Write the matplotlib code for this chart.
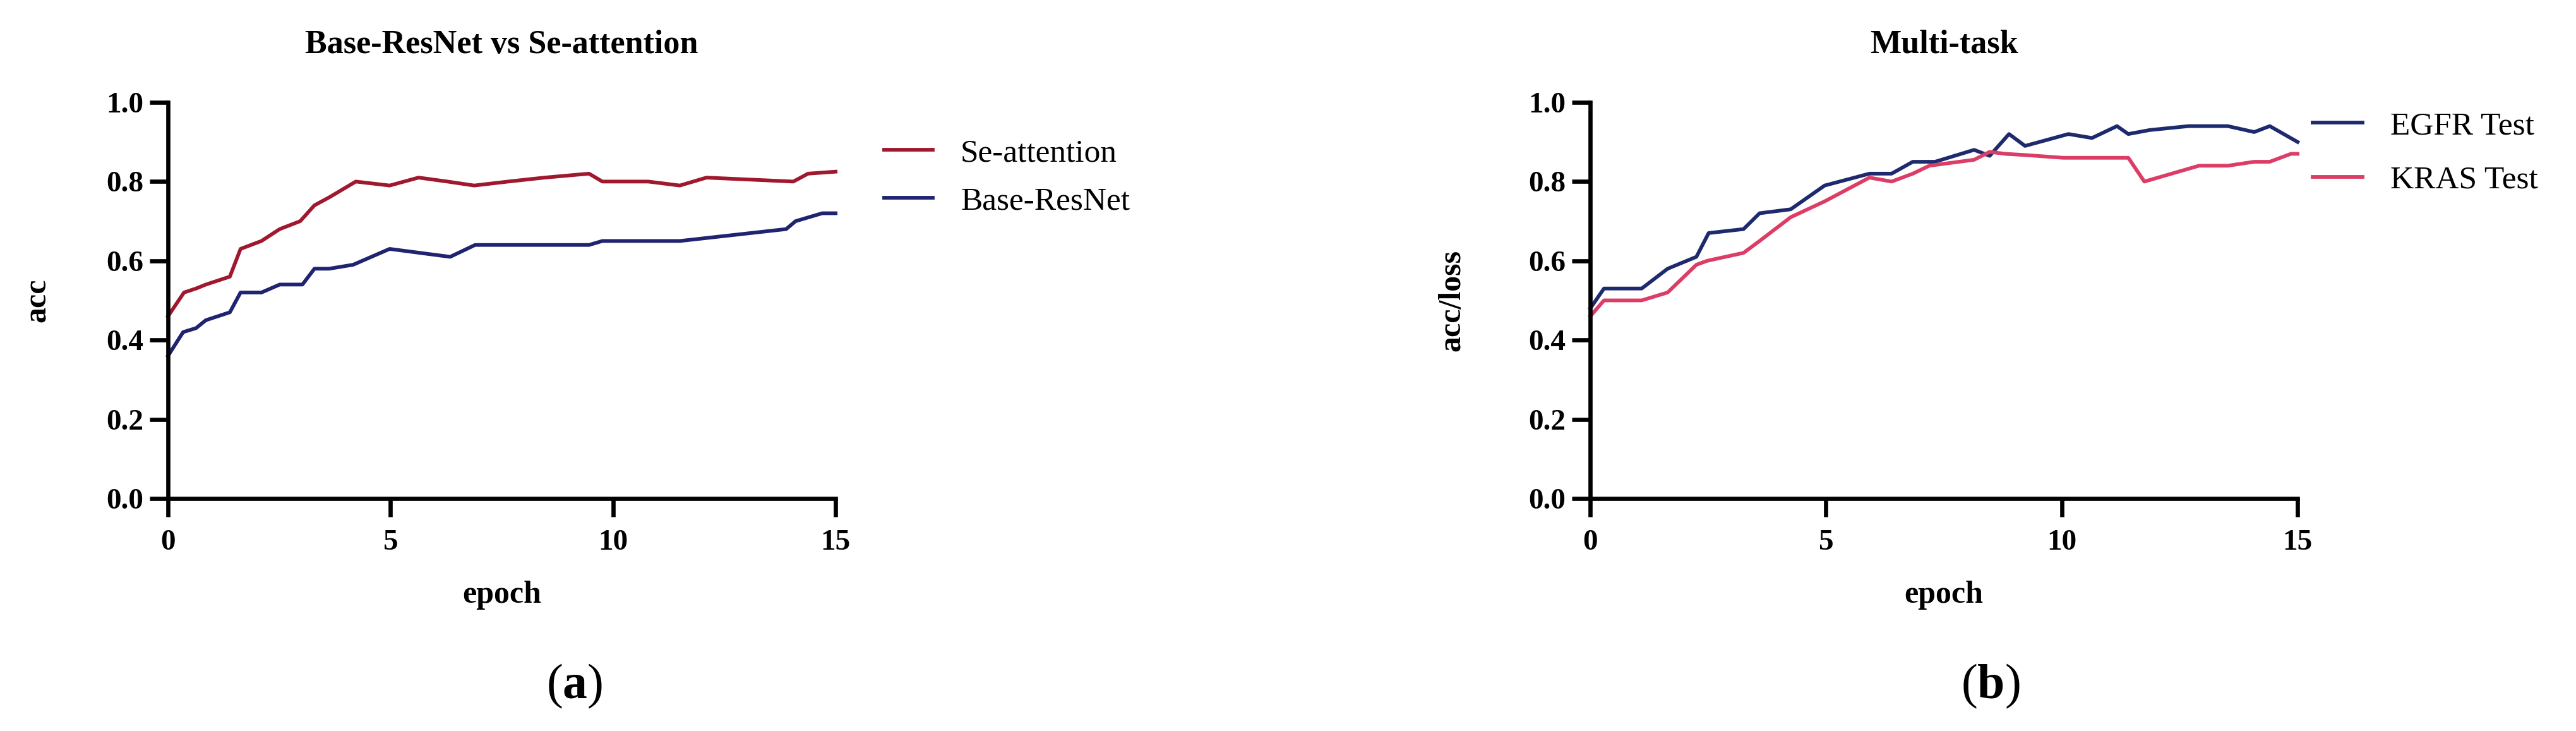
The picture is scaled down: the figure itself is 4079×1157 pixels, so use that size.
import matplotlib
matplotlib.use("Agg")
import matplotlib.pyplot as plt

# values
se_epoch = [0, 0.36, 0.63, 0.85, 1.12, 1.39, 1.63, 2.1, 2.51, 2.97, 3.29, 3.62, 4.22, 4.98,
            5.63, 6.28, 6.88, 7.64, 8.46, 9.46, 9.76, 10.79, 11.5, 12.1, 14.05, 14.38, 15]
se_acc = [0.46, 0.52, 0.53, 0.54, 0.55, 0.56, 0.63, 0.65, 0.68, 0.70, 0.74, 0.76, 0.80, 0.79,
          0.81, 0.80, 0.79, 0.80, 0.81, 0.82, 0.80, 0.80, 0.79, 0.81, 0.80, 0.82, 0.825]

base_epoch = [0, 0.34, 0.63, 0.85, 1.12, 1.39, 1.63, 2.1, 2.51, 3.02, 3.29, 3.62, 4.16, 4.98,
              6.34, 6.9, 9.46, 9.76, 11.5, 13.89, 14.1, 14.7, 15]
base_acc = [0.36, 0.42, 0.43, 0.45, 0.46, 0.47, 0.52, 0.52, 0.54, 0.54, 0.58, 0.58, 0.59, 0.63,
            0.61, 0.64, 0.64, 0.65, 0.65, 0.68, 0.70, 0.72, 0.72]

egfr_epoch = [0, 0.29, 1.09, 1.64, 2.25, 2.51, 3.25, 3.59, 4.25, 4.97, 5.92, 6.39, 6.84, 7.31,
              8.14, 8.47, 8.88, 9.22, 10.14, 10.64, 11.17, 11.41, 11.86, 12.69, 13.52, 14.08, 14.41, 15]
egfr_acc = [0.48, 0.53, 0.53, 0.58, 0.61, 0.67, 0.68, 0.72, 0.73, 0.79, 0.82, 0.82, 0.85, 0.85,
            0.88, 0.865, 0.92, 0.89, 0.92, 0.91, 0.94, 0.92, 0.93, 0.94, 0.94, 0.925, 0.94, 0.90]

kras_epoch = [0, 0.29, 1.09, 1.64, 2.25, 2.48, 3.25, 3.59, 4.25, 4.97, 5.92, 6.39, 6.84, 7.19,
              8.14, 8.47, 8.8, 9.22, 10.03, 11.41, 11.75, 12.91, 13.52, 14.08, 14.41, 14.86, 15]
kras_acc = [0.46, 0.50, 0.50, 0.52, 0.59, 0.60, 0.62, 0.65, 0.71, 0.75, 0.81, 0.80, 0.82, 0.84,
            0.855, 0.875, 0.87, 0.867, 0.86, 0.86, 0.80, 0.84, 0.84, 0.85, 0.85, 0.87, 0.87]

x_ticks = [0, 5, 10, 15]
y_ticks = [0.0, 0.2, 0.4, 0.6, 0.8, 1.0]

plt.rcParams['font.family'] = ['Liberation Serif', 'DejaVu Serif']
plt.rcParams['mathtext.fontset'] = 'custom'
plt.rcParams['mathtext.rm'] = 'Liberation Serif'
plt.rcParams['mathtext.bf'] = 'Liberation Serif:bold'

LW = 4.2
SPINE = 4.8


def style_axes(ax, title, ylabel):
    ax.set_xlim(0, 15)
    ax.set_ylim(0, 1.0)
    ax.set_xticks(x_ticks)
    ax.set_yticks(y_ticks)
    ax.set_yticklabels(["%.1f" % v for v in y_ticks])
    for side in ['top', 'right']:
        ax.spines[side].set_visible(False)
    for side in ['left', 'bottom']:
        ax.spines[side].set_linewidth(SPINE)
    ax.tick_params(axis='both', direction='out', length=21, width=SPINE, labelsize=34)
    ax.tick_params(axis='x', pad=14)
    ax.tick_params(axis='y', pad=7)
    for lab in ax.get_xticklabels() + ax.get_yticklabels():
        lab.set_fontweight('bold')
    ax.set_title(title, fontsize=37.5, fontweight='bold', y=1.125, pad=0)
    ax.set_xlabel('epoch', fontsize=36, fontweight='bold')
    ax.xaxis.set_label_coords(0.5, -0.263)
    ax.xaxis.label.set_va('baseline')
    ax.set_ylabel(ylabel, fontsize=36, fontweight='bold')
    ax.yaxis.set_label_coords(-0.195, 0.5)
    ax.yaxis.label.set_va('center')


fig = plt.figure(figsize=(40.8, 11.57), dpi=100)

ax1 = fig.add_axes([0.0652, 0.3181, 0.2591, 0.5419])
ax1.plot(se_epoch, se_acc, color='#A0182E', lw=LW, label='Se-attention', clip_on=False)
ax1.plot(base_epoch, base_acc, color='#1F2370', lw=LW, label='Base-ResNet', clip_on=False)
style_axes(ax1, 'Base-ResNet vs Se-attention', 'acc')
ax1.legend(loc='upper left', bbox_to_anchor=(1.073, 0.909), frameon=False, fontsize=37,
           handlelength=1.5, handletextpad=0.85, labelspacing=0.57, borderpad=0, borderaxespad=0)

ax2 = fig.add_axes([0.6172, 0.3181, 0.2745, 0.5419])
ax2.plot(egfr_epoch, egfr_acc, color='#1E2A6E', lw=LW, label='EGFR Test', clip_on=False)
ax2.plot(kras_epoch, kras_acc, color='#DC3D66', lw=LW, label='KRAS Test', clip_on=False)
style_axes(ax2, 'Multi-task', 'acc/loss')
ax2.legend(loc='upper left', bbox_to_anchor=(1.021, 0.977), frameon=False, fontsize=37,
           handlelength=1.55, handletextpad=0.85, labelspacing=0.75, borderpad=0, borderaxespad=0)

fig.text(0.223, 0.045, r'($\mathbf{a}$)', fontsize=56, ha='center', va='baseline')
fig.text(0.7725, 0.045, r'($\mathbf{b}$)', fontsize=56, ha='center', va='baseline')

fig.savefig('out.png', dpi=100)
